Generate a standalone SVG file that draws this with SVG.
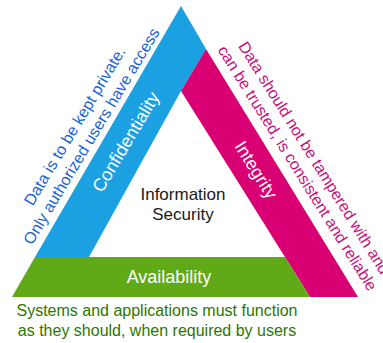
<svg xmlns="http://www.w3.org/2000/svg" width="383" height="343" viewBox="0 0 383 343">
<style>
.lbl{font-family:"Liberation Sans",Arial,sans-serif;font-size:18px;fill:#ffffff;text-anchor:middle}
.desc{font-family:"Liberation Sans",Arial,sans-serif;font-size:16px;text-anchor:middle}
.ctr{font-family:"Liberation Sans",Arial,sans-serif;font-size:17px;fill:#1a1a1a;text-anchor:middle}
</style>
<rect width="383" height="343" fill="#ffffff"/>
<g id="confidentiality">
<path d="M181,6 L206,49 L181,91 L89,257 L35,257 Z" fill="#1BA1E2"/>
<text class="lbl" transform="translate(126,142) rotate(-59)" y="6">Confidentiality</text>
</g>
<g id="integrity">
<path d="M206,49 L358,297 L310,297 L181,91 Z" fill="#D80073"/>
<text class="lbl" transform="translate(256,170) rotate(58)" y="6">Integrity</text>
</g>
<g id="availability">
<path d="M35,257 L285,257 L310,297 L12,297 Z" fill="#60A917"/>
<text class="lbl" x="169" y="283">Availability</text>
</g>
<g id="information-security">
<text class="ctr" x="183" y="200">Information</text>
<text class="ctr" x="183" y="219.5">Security</text>
</g>
<g id="confidentiality-desc" transform="translate(83.25,131.25) rotate(-59)">
<text class="desc" fill="#1A63D6" y="-4.5">Data is to be kept private.</text>
<text class="desc" fill="#1A63D6" y="15">Only authorized users have access</text>
</g>
<g id="integrity-desc" transform="translate(305.6,163) rotate(58)">
<text class="desc" fill="#C8107A" y="-4.5">Data should not be tampered with and</text>
<text class="desc" fill="#C8107A" y="15">can be trusted, is consistent and reliable</text>
</g>
<g id="availability-desc">
<text class="desc" fill="#2D7600" x="157" y="316">Systems and applications must function</text>
<text class="desc" fill="#2D7600" x="157" y="336">as they should, when required by users</text>
</g>
<g id="connectors"></g>
</svg>
